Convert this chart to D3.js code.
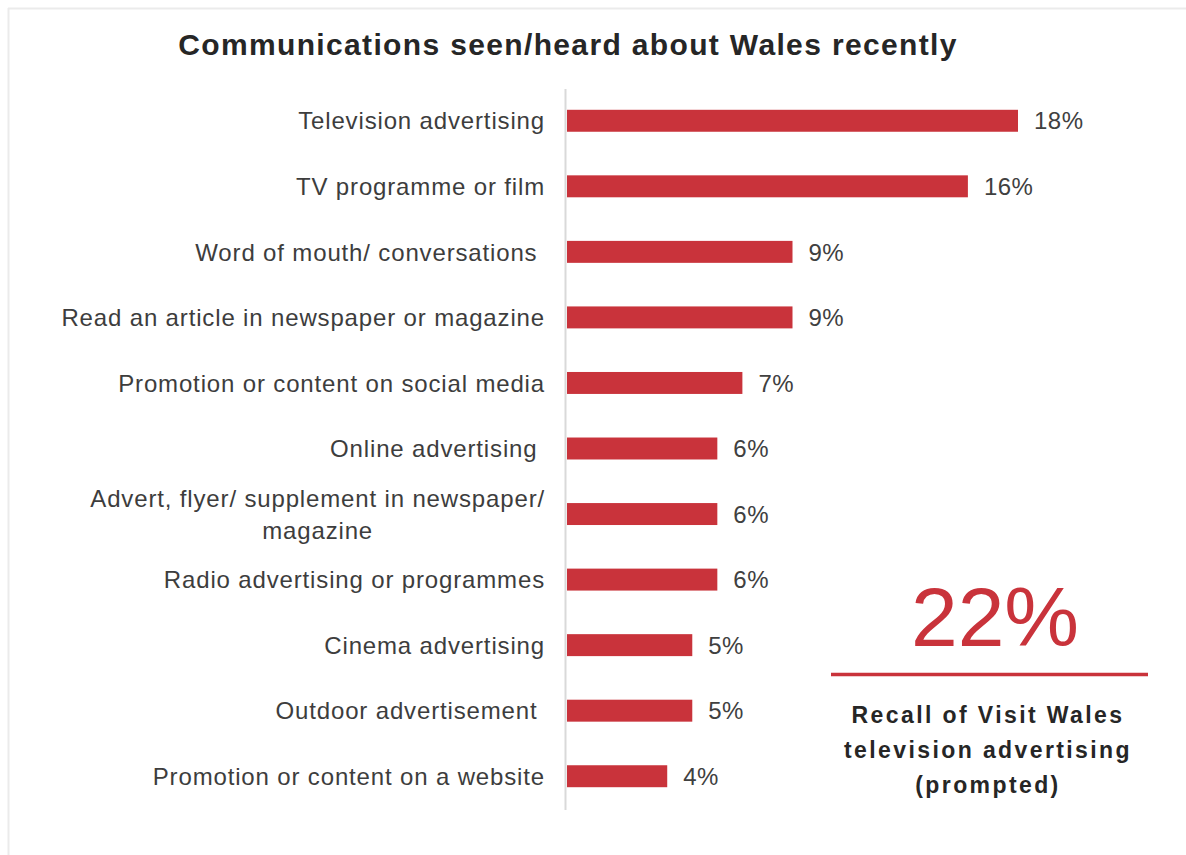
<!DOCTYPE html>
<html>
<head>
<meta charset="utf-8">
<script src="https://cdn.jsdelivr.net/npm/d3@7"></script>
<style>
  html, body { margin: 0; padding: 0; background: #ffffff; }
  svg { display: block; }
  text { font-family: "Liberation Sans", Arial, sans-serif; }
</style>
</head>
<body>
<svg id="chart" width="1186" height="855"></svg>
<script>
// Channels where people saw or heard something about Wales (share of respondents, %)
const categories = [
  "Television advertising",
  "TV programme or film",
  "Word of mouth/ conversations ",
  "Read an article in newspaper or magazine",
  "Promotion or content on social media",
  "Online advertising ",
  "Advert, flyer/ supplement in newspaper/\nmagazine",
  "Radio advertising or programmes",
  "Cinema advertising",
  "Outdoor advertisement ",
  "Promotion or content on a website"
];
const values = [18, 16, 9, 9, 7, 6, 6, 6, 5, 5, 4];

// Headline figure shown beside the bars
const headlineValue = 22;
const headlineLines = ["Recall of Visit Wales", "television advertising", "(prompted)"];
const title = "Communications seen/heard about Wales recently";

const RED = "#c9333b";
const svg = d3.select("#chart");

// Light frame along the top and left edges
svg.append("line").attr("x1", 8).attr("x2", 1186).attr("y1", 8.5).attr("y2", 8.5)
  .attr("stroke", "#ebebeb").attr("stroke-width", 2);
svg.append("line").attr("x1", 8.5).attr("x2", 8.5).attr("y1", 8).attr("y2", 855)
  .attr("stroke", "#ebebeb").attr("stroke-width", 2);

// Title
svg.append("text")
  .attr("x", 568).attr("y", 55)
  .attr("text-anchor", "middle")
  .attr("font-size", 30).attr("font-weight", "bold")
  .attr("letter-spacing", 1.35)
  .attr("fill", "#262626")
  .text(title);

// Scales
const x = d3.scaleLinear().domain([0, 18]).range([566, 1017]);
const y = d3.scaleBand().domain(categories).range([88, 809])
  .paddingInner(0.665).paddingOuter(0.3325);

// Category axis line
svg.append("line")
  .attr("x1", 565.5).attr("x2", 565.5)
  .attr("y1", 89).attr("y2", 810)
  .attr("stroke", "#d9d9d9").attr("stroke-width", 2);

// Bars
svg.append("g").selectAll("rect")
  .data(values)
  .join("rect")
  .attr("x", x(0) + 1)
  .attr("y", (d, i) => y(categories[i]))
  .attr("width", d => x(d) - x(0))
  .attr("height", y.bandwidth())
  .attr("fill", RED);

// Value labels
svg.append("g").selectAll("text")
  .data(values)
  .join("text")
  .attr("x", d => x(d) + 17)
  .attr("y", (d, i) => y(categories[i]) + y.bandwidth() / 2)
  .attr("dy", "0.36em")
  .attr("font-size", 24)
  .attr("letter-spacing", 0.5)
  .attr("fill", "#404040")
  .text(d => d + "%");

// Category labels (right-aligned; multi-line labels are centred as a block)
const labelRight = 545;
const lineGap = 32;
const labelG = svg.append("g");
categories.forEach(c => {
  const lines = c.split("\n");
  const cy = y(c) + y.bandwidth() / 2;
  const t = labelG.append("text")
    .attr("font-size", 24)
    .attr("letter-spacing", 0.85)
    .attr("fill", "#3d3d3d")
    .attr("xml:space", "preserve")
    .style("white-space", "pre");
  if (lines.length === 1) {
    t.attr("x", labelRight).attr("y", cy).attr("dy", "0.36em")
      .attr("text-anchor", "end").text(c);
  } else {
    t.attr("text-anchor", "middle");
    const spans = lines.map((ln, k) => t.append("tspan")
      .attr("y", cy + (k - (lines.length - 1) / 2) * lineGap)
      .attr("dy", "0.36em")
      .text(ln));
    const w = d3.max(spans, s => s.node().getComputedTextLength());
    spans.forEach(s => s.attr("x", labelRight - w / 2));
  }
});

// Headline figure with its rule and caption
const cx = 993;
svg.append("text")
  .attr("x", cx + 2).attr("y", 646)
  .attr("text-anchor", "middle")
  .attr("font-size", 84)
  .attr("fill", RED)
  .text(headlineValue + "%");

svg.append("line")
  .attr("x1", 831).attr("x2", 1148)
  .attr("y1", 674.5).attr("y2", 674.5)
  .attr("stroke", RED).attr("stroke-width", 3.5);

svg.append("g").selectAll("text")
  .data(headlineLines)
  .join("text")
  .attr("x", cx - 5)
  .attr("y", (d, i) => 723 + i * 35)
  .attr("text-anchor", "middle")
  .attr("font-size", 23)
  .attr("font-weight", "bold")
  .attr("letter-spacing", 2.4)
  .attr("fill", "#262626")
  .text(d => d);
</script>
</body>
</html>
